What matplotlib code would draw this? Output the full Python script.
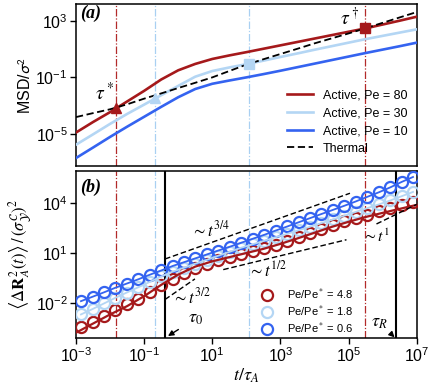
import matplotlib
matplotlib.use("Agg")
import matplotlib.pyplot as plt
import numpy as np

plt.rcParams['font.family'] = ['Liberation Sans', 'DejaVu Sans']
plt.rcParams['mathtext.fontset'] = 'stixsans'

# colours
c_red = '#a5191b'
c_lblue = '#b4d6f4'
c_blue = '#3463f0'

# ---- panel (a): MSD curves, log10 values at half decades
t_a = [1e-3, 3.16e-3, 1e-2, 3.16e-2, 1e-1, 3.16e-1, 1, 3.16, 10, 31.6, 100,
       316, 1e3, 3.16e3, 1e4, 3.16e4, 1e5, 3.16e5, 1e6, 3.16e6, 1e7]
log_msd_pe80 = [-4.89, -4.15, -3.45, -2.70, -1.95, -1.15, -0.50, -0.05, 0.30, 0.55, 0.78,
                1.02, 1.26, 1.50, 1.74, 1.98, 2.22, 2.46, 2.73, 3.00, 3.28]
log_msd_pe30 = [-5.75, -5.02, -4.28, -3.58, -2.92, -2.26, -1.60, -0.95, -0.55, -0.30, -0.07,
                0.18, 0.44, 0.69, 0.95, 1.20, 1.45, 1.70, 1.93, 2.16, 2.39]
log_msd_pe10 = [-6.69, -5.95, -5.20, -4.48, -3.78, -3.08, -2.40, -1.82, -1.45, -1.22, -1.00,
                -0.77, -0.53, -0.28, -0.03, 0.22, 0.47, 0.72, 0.96, 1.20, 1.45]
log_msd_thermal = [-3.80, -3.52, -3.25, -2.90, -2.50, -2.13, -1.75, -1.38, -1.00, -0.55, -0.10,
                   0.28, 0.65, 1.02, 1.40, 1.75, 2.10, 2.47, 2.85, 3.23, 3.61]
labels_a = ['Active, Pe = 80', 'Active, Pe = 30', 'Active, Pe = 10']

# crossing markers
tau_star = 0.015
log_msd_tau_star = -3.17
tau_dagger = 3.1e5
log_msd_tau_dagger = 2.46
t_tri_lb = 0.21
log_msd_tri_lb = -2.42
t_sq_lb = 120
log_msd_sq_lb = -0.07

# reference times
vlines_red = [tau_star, tau_dagger]
vlines_lb = [t_tri_lb, t_sq_lb]
tau_0 = 0.41
tau_R = 2.5e6

# ---- panel (b): <dR^2> data (circles), log10 values
t_b = [1.4e-3, 3.1e-3, 6.6e-3, 1.4e-2, 3.1e-2, 6.8e-2, 0.15, 0.32, 0.69, 1.5,
       3.2, 7.1, 15, 33, 71, 155, 340, 720, 1.6e3, 3.4e3,
       7.4e3, 1.6e4, 3.5e4, 7.6e4, 1.6e5, 3.5e5, 7.8e5, 1.7e6, 3.6e6, 7.8e6]
log_r2_48 = [-3.45, -3.15, -2.80, -2.45, -2.10, -1.75, -1.35, -0.95, -0.55, -0.20,
             0.10, 0.35, 0.55, 0.75, 0.92, 1.10, 1.30, 1.50, 1.72, 1.95,
             2.20, 2.45, 2.68, 2.90, 3.10, 3.32, 3.52, 3.72, 3.92, 4.10]
log_r2_18 = [-2.70, -2.37, -2.04, -1.71, -1.38, -1.06, -0.73, -0.41, -0.12, 0.12,
             0.36, 0.60, 0.84, 1.08, 1.32, 1.53, 1.74, 1.95, 2.16, 2.37,
             2.58, 2.80, 3.02, 3.25, 3.47, 3.70, 3.93, 4.17, 4.42, 4.68]
log_r2_06 = [-1.90, -1.63, -1.37, -1.10, -0.84, -0.58, -0.30, -0.05, 0.22, 0.45,
             0.68, 0.92, 1.15, 1.38, 1.62, 1.86, 2.10, 2.35, 2.60, 2.85,
             3.10, 3.35, 3.60, 3.85, 4.10, 4.38, 4.66, 4.96, 5.28, 5.58]
labels_b = ['Pe/Pe$^*$ = 4.8', 'Pe/Pe$^*$ = 1.8', 'Pe/Pe$^*$ = 0.6']
# red theory line for Pe/Pe* = 4.8
log_r2_48_line = [-3.80, -3.25, -2.70, -2.20, -1.60, -0.92, -0.30, 0.18, 0.50, 0.75, 1.00,
                  1.25, 1.55, 1.88, 2.22, 2.57, 2.88, 3.17, 3.42, 3.66, 3.90]

# scaling guides: (t start, t end), (log y start, log y end)
guide_34_t = [0.41, 1.1e5]
guide_34_y = [0.64, 4.60]
guide_12_t = [21, 8.7e4]
guide_12_y = [0.0, 1.80]
guide_32_t = [0.41, 3.1]
guide_32_y = [-1.80, -0.56]
guide_1_t = [6.6e5, 1e7]
guide_1_y = [2.75, 3.93]

fig = plt.figure(figsize=(4.36, 3.90), dpi=100)
ax1 = fig.add_axes([0.1743, 0.5744, 0.7814, 0.4154])
ax2 = fig.add_axes([0.1743, 0.1333, 0.7814, 0.4282])

vl = dict(lw=0.9, ls=(0, (6, 1.5, 1, 1.5)), zorder=1)
for ax in (ax1, ax2):
    for x in vlines_red:
        ax.axvline(x, color='#b22a2a', **vl)
    for x in vlines_lb:
        ax.axvline(x, color='#a9d0f2', **vl)

# panel a
ax1.plot(t_a, 10**np.array(log_msd_pe80), color=c_red, lw=1.9, label=labels_a[0], zorder=3)
ax1.plot(t_a, 10**np.array(log_msd_pe30), color=c_lblue, lw=1.9, label=labels_a[1], zorder=3)
ax1.plot(t_a, 10**np.array(log_msd_pe10), color=c_blue, lw=1.9, label=labels_a[2], zorder=3)
ax1.plot(t_a, 10**np.array(log_msd_thermal), color='k', lw=1.3, ls=(0, (4, 2)),
         label='Thermal', zorder=4)
ax1.plot(tau_star, 10**log_msd_tau_star, '^', color=c_red, ms=7, zorder=5)
ax1.plot(tau_dagger, 10**log_msd_tau_dagger, 's', color=c_red, ms=7, zorder=5)
ax1.plot(t_tri_lb, 10**log_msd_tri_lb, '^', color=c_lblue, ms=7, zorder=5)
ax1.plot(t_sq_lb, 10**log_msd_sq_lb, 's', color=c_lblue, ms=7, zorder=5)

ax1.set_xscale('log')
ax1.set_yscale('log')
ax1.set_xlim(1e-3, 1e7)
ax1.set_ylim(10**-7.25, 10**4.18)
ax1.set_yticks([1e-5, 1e-1, 1e3])
ax1.set_xticks([])
ax1.minorticks_off()
ax1.set_ylabel('MSD/$\\sigma^2$', fontsize=11.5, labelpad=2)
ax1.text(0.012, 0.94, '(a)', transform=ax1.transAxes, fontsize=13, family='Liberation Serif',
         weight='bold', style='italic', va='center')
ax1.text(0.007, 10**-2.1, '$\\tau^*$', fontsize=14, ha='center', va='center',
         math_fontfamily='stix')
ax1.text(1.1e5, 10**3.19, '$\\tau^\\dagger$', fontsize=14, ha='center', va='center',
         math_fontfamily='stix')
ax1.legend(loc='upper left', bbox_to_anchor=(0.618, 0.47), frameon=False, fontsize=9,
           handlelength=2.1, handletextpad=0.8, labelspacing=0.45, borderpad=0,
           borderaxespad=0)

# panel b
circ = dict(ls='none', marker='o', mfc='none', ms=8, mew=1.6, zorder=3)
ax2.plot(t_b, 10**np.array(log_r2_48), color=c_red, label=labels_b[0], **circ)
ax2.plot(t_b, 10**np.array(log_r2_18), color=c_lblue, label=labels_b[1], **circ)
ax2.plot(t_b, 10**np.array(log_r2_06), color=c_blue, label=labels_b[2], **circ)
ax2.plot(t_b, 10**np.array(log_r2_18), color=c_lblue, lw=1.3, zorder=3)
ax2.plot(t_b, 10**np.array(log_r2_06), color=c_blue, lw=1.3, zorder=3)
ax2.plot(t_a, 10**np.array(log_r2_48_line), color=c_red, lw=1.6, zorder=4)

gd = dict(color='k', lw=1.0, ls=(0, (4, 2)), zorder=5)
ax2.plot(guide_34_t, 10**np.array(guide_34_y), **gd)
ax2.plot(guide_12_t, 10**np.array(guide_12_y), **gd)
ax2.plot(guide_32_t, 10**np.array(guide_32_y), **gd)
ax2.plot(guide_1_t, 10**np.array(guide_1_y), **gd)

ax2.axvline(tau_0, color='k', lw=1.5, zorder=2)
ax2.axvline(tau_R, color='k', lw=1.5, zorder=2)

ax2.set_xscale('log')
ax2.set_yscale('log')
ax2.set_xlim(1e-3, 1e7)
ax2.set_ylim(10**-4.12, 10**5.94)
ax2.set_xticks([1e-3, 1e-1, 1e1, 1e3, 1e5, 1e7])
ax2.set_yticks([1e-2, 1e1, 1e4])
ax2.minorticks_off()
ax2.set_xlabel('$t/\\tau_A$', fontsize=13, labelpad=1, math_fontfamily='stix')
ax2.set_ylabel('$\\left\\langle \\Delta \\mathbf{R}_A^2(t) \\right\\rangle\\,/\\,(\\sigma_{\\mathcal{Y}}^{\\mathcal{C}})^2$',
               fontsize=12, labelpad=1, math_fontfamily='stix')
ax2.text(0.012, 0.90, '(b)', transform=ax2.transAxes, fontsize=13, family='Liberation Serif',
         weight='bold', style='italic', va='center')

st = dict(fontsize=12, ha='center', va='center', math_fontfamily='stix')
ax2.text(9, 10**2.4, '$\\sim t^{3/4}$', **st)
ax2.text(420, 10**0.0, '$\\sim t^{1/2}$', **st)
ax2.text(2.5, 10**-1.62, '$\\sim t^{3/2}$', **st)
ax2.text(6.5e5, 10**2.0, '$\\sim t^{1}$', fontsize=11.5, ha='center', va='center',
         math_fontfamily='stix')

ax2.annotate('$\\tau_0$', xy=(0.5, 10**-4.0), xytext=(3.3, 10**-2.95), fontsize=13,
             ha='center', va='center', math_fontfamily='stix',
             arrowprops=dict(arrowstyle='-|>', color='k', lw=1.0, mutation_scale=8,
                             shrinkA=6, shrinkB=0))
ax2.annotate('$\\tau_R$', xy=(2.25e6, 10**-4.08), xytext=(8.2e5, 10**-3.2), fontsize=13,
             ha='center', va='center', math_fontfamily='stix',
             arrowprops=dict(arrowstyle='-|>', color='k', lw=1.0, mutation_scale=8,
                             shrinkA=7, shrinkB=0))

ax2.legend(loc='upper left', bbox_to_anchor=(0.536, 0.305), frameon=False, fontsize=8,
           handlelength=1.5, handletextpad=1.1, labelspacing=0.15, borderpad=0,
           borderaxespad=0, numpoints=1)

for ax in (ax1, ax2):
    for s in ax.spines.values():
        s.set_linewidth(1.1)
    ax.tick_params(which='both', direction='out', length=4, width=1.0, labelsize=11.5, pad=2)

fig.savefig('out.png', dpi=100)
